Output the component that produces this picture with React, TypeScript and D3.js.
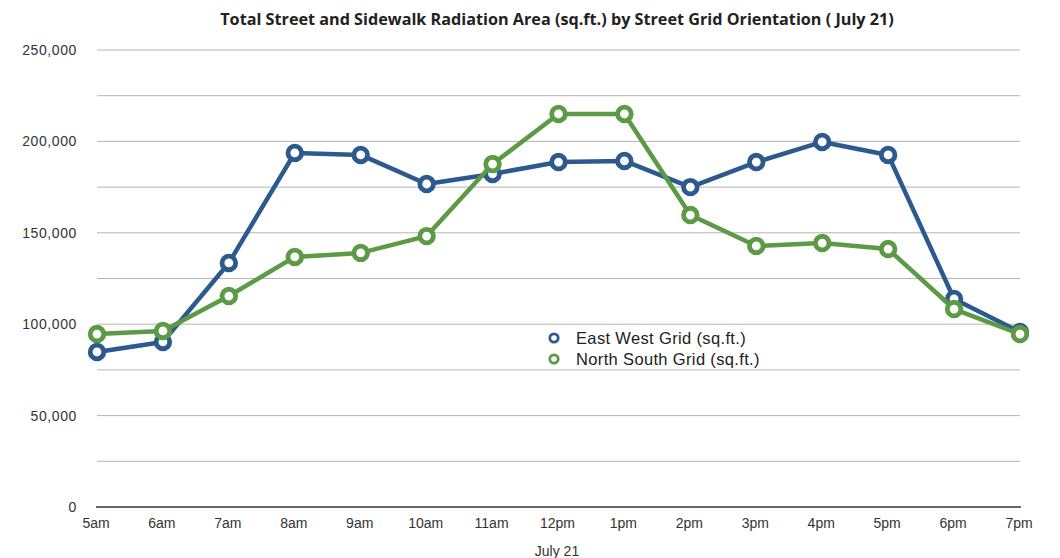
import React, { useEffect, useRef } from "react";
import * as d3 from "d3";

const width = 1060;
const height = 558;

const hours = ["5am", "6am", "7am", "8am", "9am", "10am", "11am", "12pm", "1pm", "2pm", "3pm", "4pm", "5pm", "6pm", "7pm"];
const eastWest = [84800, 90300, 133500, 193700, 192600, 176700, 182200, 188700, 189300, 175000, 188700, 199700, 192600, 113800, 95700];
const northSouth = [94600, 96300, 115400, 136800, 139000, 148200, 187600, 215000, 215000, 159700, 142800, 144400, 141100, 108300, 94600];
const yTicks = [0, 50000, 100000, 150000, 200000, 250000];
const gridTicks = [25000, 50000, 75000, 100000, 125000, 150000, 175000, 200000, 225000, 250000];

const seriesList = [
  { name: "East West Grid (sq.ft.)", values: eastWest, color: "#2c5a8e" },
  { name: "North South Grid (sq.ft.)", values: northSouth, color: "#5c9a45" },
];

const font = "'Liberation Sans', Arial, sans-serif";

export default function App() {
  const ref = useRef<SVGSVGElement>(null);

  useEffect(() => {
    const svg = d3.select(ref.current);
    svg.selectAll("*").remove();

    const x = d3.scalePoint<string>().domain(hours).range([97, 1020]);
    const y = d3.scaleLinear().domain([0, 250000]).range([507, 50]);

    // title
    svg
      .append("text")
      .attr("x", 557)
      .attr("y", 25)
      .attr("text-anchor", "middle")
      .attr("font-family", "'Open Sans', sans-serif")
      .attr("font-weight", 700)
      .attr("font-size", 16.2)
      .attr("fill", "#222")
      .text("Total Street and Sidewalk Radiation Area (sq.ft.) by Street Grid Orientation ( July 21)");

    // grid
    svg
      .append("g")
      .selectAll("line")
      .data(gridTicks)
      .enter()
      .append("line")
      .attr("x1", 97)
      .attr("x2", 1020)
      .attr("y1", (d) => y(d))
      .attr("y2", (d) => y(d))
      .attr("stroke", "#b4b4b4")
      .attr("stroke-width", 1);

    svg
      .append("line")
      .attr("x1", 96)
      .attr("x2", 1021)
      .attr("y1", y(0))
      .attr("y2", y(0))
      .attr("stroke", "#333")
      .attr("stroke-width", 1.6);

    // y labels
    svg
      .append("g")
      .selectAll("text")
      .data(yTicks)
      .enter()
      .append("text")
      .attr("x", 77)
      .attr("y", (d) => y(d) + 5)
      .attr("text-anchor", "end")
      .attr("font-family", font)
      .attr("font-size", 14)
      .attr("letter-spacing", 0.6)
      .attr("fill", "#333")
      .text((d) => d3.format(",")(d));

    // x labels
    svg
      .append("g")
      .selectAll("text")
      .data(hours)
      .enter()
      .append("text")
      .attr("x", (d) => x(d)! - 1)
      .attr("y", 528)
      .attr("text-anchor", "middle")
      .attr("font-family", font)
      .attr("font-size", 14)
      .attr("fill", "#333")
      .text((d) => d);

    svg
      .append("text")
      .attr("x", 557)
      .attr("y", 556)
      .attr("text-anchor", "middle")
      .attr("font-family", font)
      .attr("font-size", 14)
      .attr("fill", "#333")
      .text("July 21");

    const line = d3
      .line<number>()
      .x((d, i) => x(hours[i])!)
      .y((d) => y(d));

    seriesList.forEach((s) => {
      const g = svg.append("g");
      g.append("path")
        .datum(s.values)
        .attr("d", line)
        .attr("fill", "none")
        .attr("stroke", s.color)
        .attr("stroke-width", 4.5)
        .attr("stroke-linejoin", "round");
      g.selectAll("circle")
        .data(s.values)
        .enter()
        .append("circle")
        .attr("cx", (d, i) => x(hours[i])!)
        .attr("cy", (d) => y(d))
        .attr("r", 6.8)
        .attr("fill", "#fff")
        .attr("stroke", s.color)
        .attr("stroke-width", 4.8);
    });

    // legend
    const legend = svg
      .append("g")
      .selectAll("g")
      .data(seriesList)
      .enter()
      .append("g")
      .attr("transform", (d, i) => "translate(554," + (338 + i * 21) + ")");
    legend
      .append("circle")
      .attr("r", 4.2)
      .attr("fill", "#fff")
      .attr("stroke", (d) => d.color)
      .attr("stroke-width", 2.8);
    legend
      .append("text")
      .attr("x", 22)
      .attr("y", 6)
      .attr("font-family", font)
      .attr("font-size", 16.5)
      .attr("letter-spacing", 0.35)
      .attr("fill", "#222")
      .text((d) => d.name);
  }, []);

  return (
    <svg
      ref={ref}
      width={width}
      height={height}
      style={{ position: "absolute", left: 0, top: 0, background: "#fff" }}
    />
  );
}
